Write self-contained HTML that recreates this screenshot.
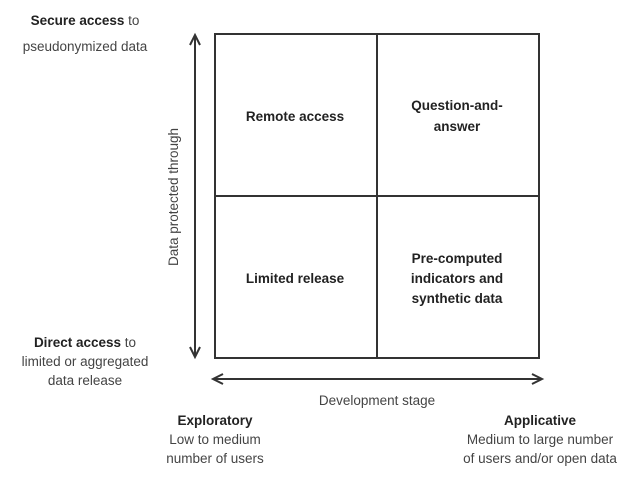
<!DOCTYPE html>
<html><head><meta charset="utf-8"><style>
html,body{margin:0;padding:0;background:#fff}
body{width:630px;height:482px;position:relative;overflow:hidden}
</style></head><body>
<svg width="630" height="482" style="position:absolute;left:0;top:0" font-family="Liberation Sans, Arial, sans-serif" font-size="13.5" fill="#333" text-anchor="middle">
<g stroke="#333" stroke-width="2" fill="none">
<rect x="215" y="34" width="324" height="324"/>
<line x1="377" y1="34" x2="377" y2="358"/>
<line x1="215" y1="196" x2="539" y2="196"/>
<line x1="195" y1="36" x2="195" y2="356"/>
<polyline points="190,45 195,35 200,45"/>
<polyline points="190,347 195,357 200,347"/>
<line x1="214" y1="379" x2="541" y2="379"/>
<polyline points="223,374 213,379 223,384"/>
<polyline points="532,374 542,379 532,384"/>
</g>
<text x="85" y="25" fill="#222"><tspan font-weight="bold">Secure access</tspan> <tspan fill="#444">to</tspan></text>
<text x="85" y="51" fill="#444">pseudonymized data</text>
<text x="85" y="347" fill="#222"><tspan font-weight="bold">Direct access</tspan> <tspan fill="#444">to</tspan></text>
<text x="85" y="366" fill="#444">limited or aggregated</text>
<text x="85" y="385" fill="#444">data release</text>
<text transform="translate(178,197) rotate(-90)" fill="#444">Data protected through</text>
<g font-weight="bold" fill="#222">
<text x="295" y="121">Remote access</text>
<text x="457" y="110">Question-and-</text>
<text x="457" y="131">answer</text>
<text x="295" y="283">Limited release</text>
<text x="457" y="263">Pre-computed</text>
<text x="457" y="283">indicators and</text>
<text x="457" y="303">synthetic data</text>
<text x="215" y="425">Exploratory</text>
<text x="540" y="425">Applicative</text>
</g>
<g fill="#444">
<text x="377" y="405">Development stage</text>
<text x="215" y="444">Low to medium</text>
<text x="215" y="463">number of users</text>
<text x="540" y="444">Medium to large number</text>
<text x="540" y="463">of users and/or open data</text>
</g>
</svg>
</body></html>
